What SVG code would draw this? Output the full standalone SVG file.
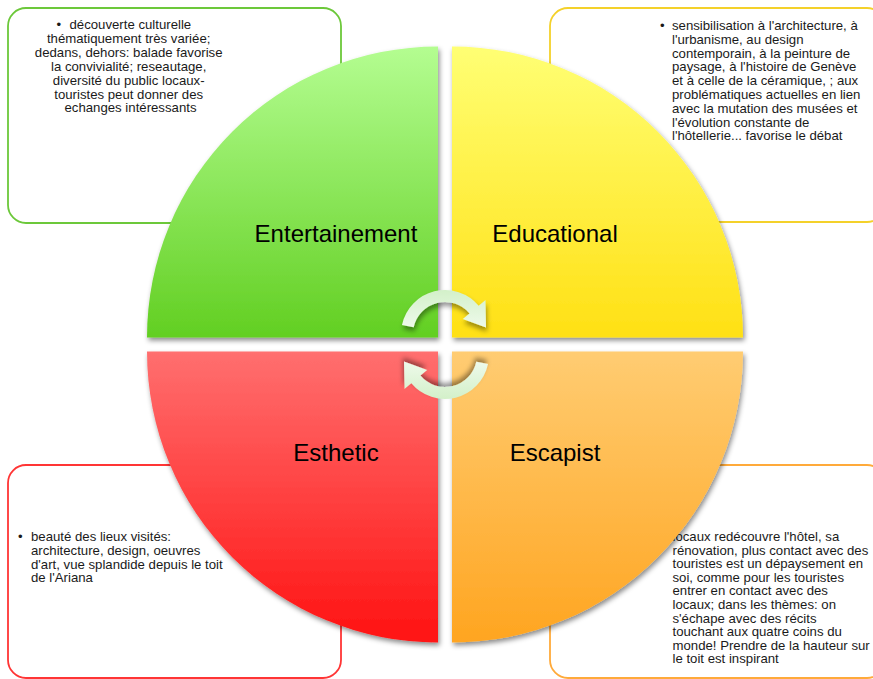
<svg xmlns="http://www.w3.org/2000/svg" width="873" height="679" viewBox="0 0 873 679">
<defs>
<style>
.note{fill:#ffffff;stroke-width:1.8}
.nt{font-family:"Liberation Sans",Arial,sans-serif;font-size:13.2px;fill:#1a1a1a}
.lbl{font-family:"Liberation Sans",Arial,sans-serif;font-size:24px;fill:#000000;text-anchor:middle}
.arrow{fill:url(#gArrow);filter:url(#shArrow)}
.quad{filter:url(#shQuad)}
</style>
<linearGradient id="gGreen" x1="0" y1="0" x2="0" y2="1"><stop offset="0" stop-color="#b4fd91"/><stop offset="1" stop-color="#62cf22"/></linearGradient>
<linearGradient id="gYellow" x1="0" y1="0" x2="0" y2="1"><stop offset="0" stop-color="#ffff74"/><stop offset="1" stop-color="#ffe014"/></linearGradient>
<linearGradient id="gRed" x1="0" y1="0" x2="0" y2="1"><stop offset="0" stop-color="#ff6f6f"/><stop offset="1" stop-color="#ff1212"/></linearGradient>
<linearGradient id="gOrange" x1="0" y1="0" x2="0" y2="1"><stop offset="0" stop-color="#ffcc72"/><stop offset="1" stop-color="#ffa520"/></linearGradient>
<linearGradient id="gArrow" x1="0" y1="0" x2="0" y2="1"><stop offset="0" stop-color="#d3f0c9"/><stop offset="1" stop-color="#eefaeb"/></linearGradient>
<filter id="shQuad" x="-10%" y="-10%" width="125%" height="125%"><feDropShadow dx="1.5" dy="3" stdDeviation="2.5" flood-color="#000000" flood-opacity="0.45"/></filter>
<filter id="shArrow" x="-30%" y="-30%" width="160%" height="170%"><feDropShadow dx="1" dy="4" stdDeviation="2.5" flood-color="#000000" flood-opacity="0.4"/></filter>
</defs>
<rect x="0" y="0" width="873" height="679" fill="#ffffff"/>

<g id="note-entertainment">
<rect class="note" x="8" y="8" width="333" height="215" rx="18" stroke="#6cc83a"/>
<text class="nt" x="56.5" y="29">•</text>
<text class="nt" x="69.5" y="29">découverte culturelle</text>
<text class="nt" text-anchor="middle">
<tspan x="130.5" y="42.9">thématiquement très variée;</tspan>
<tspan x="130.5" y="56.8">dedans, dehors: balade favorise</tspan>
<tspan x="130.5" y="70.7">la convivialité; reseautage,</tspan>
<tspan x="130.5" y="84.6">diversité du public locaux-</tspan>
<tspan x="130.5" y="98.5">touristes peut donner des</tspan>
<tspan x="130.5" y="112.4">echanges intéressants</tspan>
</text>
</g>

<g id="note-educational">
<rect class="note" x="550" y="8" width="335" height="214" rx="18" stroke="#f4d12a"/>
<text class="nt" x="660" y="30">•</text>
<text class="nt">
<tspan x="672" y="30">sensibilisation à l'architecture, à</tspan>
<tspan x="672" y="43.8">l'urbanisme, au design</tspan>
<tspan x="672" y="57.6">contemporain, à la peinture de</tspan>
<tspan x="672" y="71.4">paysage, à l'histoire de Genève</tspan>
<tspan x="672" y="85.2">et à celle de la céramique, ; aux</tspan>
<tspan x="672" y="99">problématiques actuelles en lien</tspan>
<tspan x="672" y="112.8">avec la mutation des musées et</tspan>
<tspan x="672" y="126.6">l'évolution constante de</tspan>
<tspan x="672" y="140.4">l'hôtellerie... favorise le débat</tspan>
</text>
</g>

<g id="note-esthetic">
<rect class="note" x="8" y="465" width="333" height="213" rx="18" stroke="#ff3535"/>
<text class="nt" x="18" y="541">•</text>
<text class="nt">
<tspan x="31" y="541">beauté des lieux visités:</tspan>
<tspan x="31" y="554.8">architecture, design, oeuvres</tspan>
<tspan x="31" y="568.6">d'art, vue splandide depuis le toit</tspan>
<tspan x="31" y="582.4">de l'Ariana</tspan>
</text>
</g>

<g id="note-escapist">
<rect class="note" x="550" y="465" width="335" height="213" rx="18" stroke="#ffaa3a"/>
<text class="nt">
<tspan x="672.5" y="541">locaux redécouvre l'hôtel, sa</tspan>
<tspan x="672.5" y="554.6">rénovation, plus contact avec des</tspan>
<tspan x="672.5" y="568.2">touristes est un dépaysement en</tspan>
<tspan x="672.5" y="581.8">soi, comme pour les touristes</tspan>
<tspan x="672.5" y="595.4">entrer en contact avec des</tspan>
<tspan x="672.5" y="609">locaux; dans les thèmes: on</tspan>
<tspan x="672.5" y="622.6">s'échape avec des récits</tspan>
<tspan x="672.5" y="636.2">touchant aux quatre coins du</tspan>
<tspan x="672.5" y="649.8">monde! Prendre de la hauteur sur</tspan>
<tspan x="672.5" y="663.4">le toit est inspirant</tspan>
</text>
</g>

<g id="node-entertainment">
<path class="quad" d="M438,337.5 L147,337.5 A291,291 0 0 1 438,46.5 Z" fill="url(#gGreen)"/>
<text class="lbl" x="336" y="242">Entertainement</text>
</g>
<g id="node-educational">
<path class="quad" d="M452,337.5 L452,46.5 A291,291 0 0 1 743,337.5 Z" fill="url(#gYellow)"/>
<text class="lbl" x="555" y="242">Educational</text>
</g>
<g id="node-esthetic">
<path class="quad" d="M438,351.5 L438,642.5 A291,291 0 0 1 147,351.5 Z" fill="url(#gRed)"/>
<text class="lbl" x="336" y="461">Esthetic</text>
</g>
<g id="node-escapist">
<path class="quad" d="M452,351.5 L743,351.5 A291,291 0 0 1 452,642.5 Z" fill="url(#gOrange)"/>
<text class="lbl" x="555" y="461">Escapist</text>
</g>

<g id="connectors">
<path class="arrow" transform="translate(445,334)" d="M-43,-9.1 A44,44 0 0 1 33.7,-28.3 L40.5,-34 L41,-6.5 L17.8,-15 L24.5,-20.6 A32,32 0 0 0 -31.3,-6.7 Z"/>
<path class="arrow" transform="translate(445,355) rotate(180)" d="M-43,-9.1 A44,44 0 0 1 33.7,-28.3 L40.5,-34 L41,-6.5 L17.8,-15 L24.5,-20.6 A32,32 0 0 0 -31.3,-6.7 Z"/>
</g>
</svg>
